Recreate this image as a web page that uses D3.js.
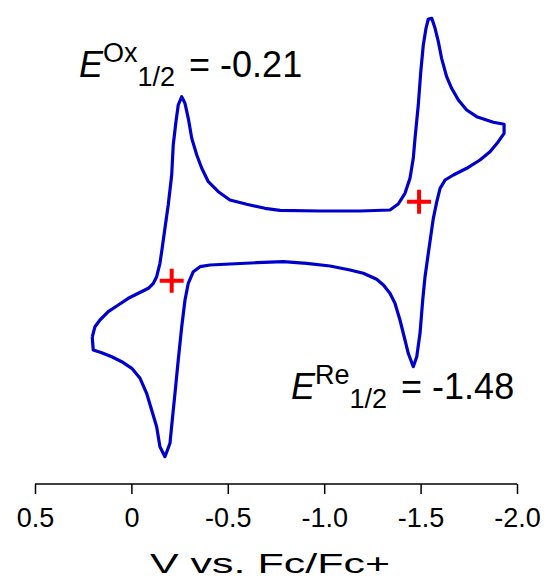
<!DOCTYPE html>
<html>
<head>
<meta charset="utf-8">
<script src="https://cdn.jsdelivr.net/npm/d3@7"></script>
<style>
  html, body { margin: 0; padding: 0; background: #fff; overflow: hidden; }
  svg { display: block; }
  text { font-family: "Liberation Sans", Arial, sans-serif; fill: #000; }
</style>
</head>
<body>
<svg id="chart" width="547" height="581"></svg>
<script>
// Potential (V vs. Fc/Fc+), traversed as one closed cyclic voltammogram loop
const potential = [
  0.203, 0.189, 0.163, 0.120, 0.068, 0.016, -0.036, -0.088, -0.114, -0.131,
  -0.148, -0.157, -0.174, -0.191, -0.209, -0.217, -0.231, -0.243, -0.261, -0.278,
  -0.295, -0.313, -0.339, -0.365, -0.399, -0.451, -0.511, -0.598, -0.693, -0.771,
  -0.978, -1.186, -1.341, -1.384, -1.419, -1.445, -1.462, -1.471, -1.488, -1.501,
  -1.514, -1.528, -1.540, -1.558, -1.575, -1.592, -1.609, -1.635, -1.661, -1.696,
  -1.739, -1.791, -1.877, -1.933,
  -1.933, -1.903, -1.860, -1.808, -1.739, -1.670, -1.627, -1.601, -1.584, -1.566,
  -1.540, -1.523, -1.511, -1.497, -1.480, -1.462, -1.436, -1.419, -1.393, -1.367,
  -1.341, -1.307, -1.272, -1.203, -1.134, -1.030, -0.909, -0.788, -0.650, -0.511,
  -0.408, -0.356, -0.321, -0.295, -0.278, -0.261, -0.243, -0.226, -0.212, -0.200,
  -0.174, -0.148, -0.131, -0.105, -0.079, -0.045, -0.002, 0.050, 0.102, 0.154,
  0.198, 0.203
];
// Current (arbitrary units, µA)
const current = [
  -9.70, -8.67, -8.00, -7.17, -6.50, -5.83, -5.33, -4.83, -4.33, -3.67,
  -2.33, -1.17, 1.17, 3.50, 6.50, 9.50, 11.83, 13.50, 14.33, 13.67,
  12.17, 10.17, 8.50, 7.17, 5.83, 4.83, 4.00, 3.57, 3.17, 2.97,
  2.90, 2.90, 3.00, 3.60, 4.67, 6.17, 8.17, 10.17, 13.50, 16.83,
  19.50, 21.17, 22.10, 22.17, 21.17, 19.83, 18.17, 16.33, 15.17, 14.00,
  13.00, 12.33, 11.77, 11.57,
  10.67, 9.83, 8.83, 8.00, 7.17, 6.50, 6.00, 5.17, 3.83, 2.17,
  -1.33, -3.67, -6.00, -9.33, -11.67, -12.67, -11.33, -10.00, -8.00, -6.33,
  -5.33, -4.50, -3.93, -3.33, -3.00, -2.60, -2.33, -2.17, -2.27, -2.40,
  -2.50, -2.67, -3.17, -4.33, -6.00, -8.67, -12.00, -15.33, -18.00, -20.33,
  -21.67, -20.67, -18.67, -17.00, -15.33, -13.83, -12.83, -12.17, -11.67, -11.27,
  -11.00, -9.70
];
// Half-wave potential markers
const markerPotential = [-0.209, -1.492];
const markerCurrent = [-4.07, 3.83];

const tickValues = [0.5, 0, -0.5, -1.0, -1.5, -2.0];
const tickLabels = ["0.5", "0", "-0.5", "-1.0", "-1.5", "-2.0"];
const axisTitle = "V vs. Fc/Fc+";

const labels = [
  { main: "E", sup: "Ox", sub: "1/2", rest: "= -0.21" },
  { main: "E", sup: "Re", sub: "1/2", rest: "= -1.48" }
];

const svg = d3.select("#chart");
const x = d3.scaleLinear().domain([0.5, -2.0]).range([35, 517]);
const y = d3.scaleLinear().domain([-23, 23]).range([470, 10]);

const pts = potential.map((v, i) => [v, current[i]]);
const line = d3.line().x(d => x(d[0])).y(d => y(d[1]));

svg.append("path")
  .attr("d", line(pts))
  .attr("fill", "none")
  .attr("stroke", "#0000cc")
  .attr("stroke-width", 3.2)
  .attr("stroke-linejoin", "round");

// red crosses
markerPotential.forEach((v, i) => {
  const cx = x(v), cy = y(markerCurrent[i]);
  svg.append("path")
    .attr("d", `M${cx - 12},${cy}H${cx + 12}M${cx},${cy - 12}V${cy + 12}`)
    .attr("stroke", "#ff0000")
    .attr("stroke-width", 4)
    .attr("fill", "none");
});

// axis
const axisG = svg.append("g").attr("transform", "translate(0,484)");
axisG.call(d3.axisBottom(x).tickValues(tickValues)
  .tickFormat((d, i) => tickLabels[i]).tickSize(10).tickPadding(14));
axisG.select(".domain").attr("stroke", "#000").attr("stroke-width", 1.5)
  .attr("d", `M${x(0.5)},0H${x(-2.0)}`);
axisG.selectAll(".tick line").attr("stroke", "#000").attr("stroke-width", 1.5);
axisG.selectAll(".tick text")
  .attr("font-family", '"Liberation Sans", Arial, sans-serif')
  .attr("font-size", 27).attr("fill", "#000");

svg.append("text")
  .attr("x", 150).attr("y", 573)
  .attr("font-size", 28)
  .attr("textLength", 240).attr("lengthAdjust", "spacingAndGlyphs")
  .text(axisTitle);

// E1/2 labels
const labelPos = [
  { x: 79, y: 77 },
  { x: 291, y: 399 }
];
labels.forEach((l, i) => {
  const p = labelPos[i];
  const t = svg.append("text").attr("x", p.x).attr("y", p.y).attr("font-size", 36);
  t.append("tspan").attr("font-style", "italic").text(l.main);
  t.append("tspan").attr("font-size", 27).attr("dy", -15).text(l.sup);
  t.append("tspan").attr("font-size", 27).attr("dy", 24).text(l.sub);
  t.append("tspan").attr("dy", -9).attr("dx", 14).text(l.rest);
});
</script>
</body>
</html>
